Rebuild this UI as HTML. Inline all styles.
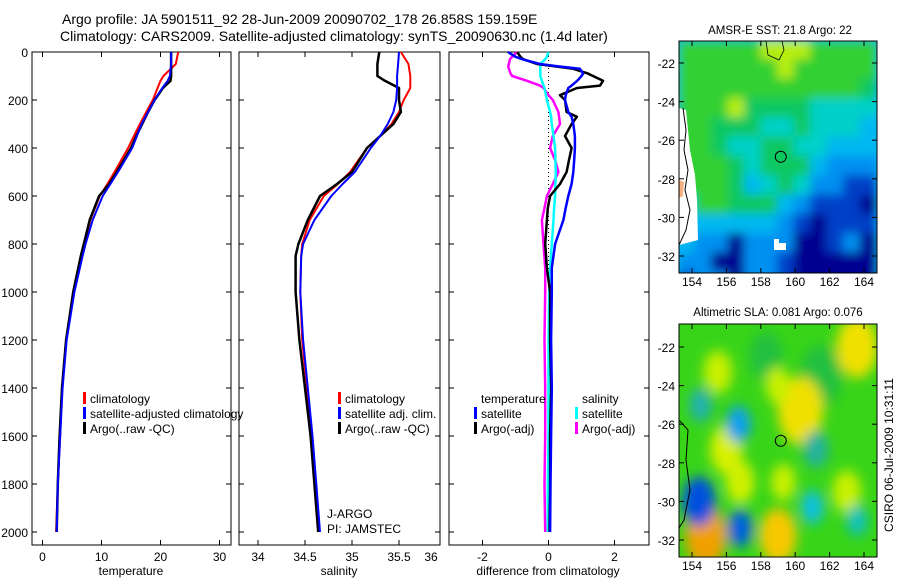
<!DOCTYPE html>
<html><head><meta charset="utf-8">
<style>
body{margin:0;background:#fff;}
svg{display:block;font-family:"Liberation Sans",sans-serif;}
</style></head>
<body>
<svg id="fig" width="900" height="580" viewBox="0 0 900 580">
<defs>
<filter id="blur1" x="-20%" y="-20%" width="140%" height="140%"><feGaussianBlur stdDeviation="5"/></filter>
<filter id="blur2" x="-50%" y="-50%" width="200%" height="200%"><feGaussianBlur stdDeviation="6"/></filter>
<clipPath id="clipMap1"><rect x="679" y="41" width="198" height="232"/></clipPath>
<clipPath id="clipMap2"><rect x="679" y="324" width="198" height="233"/></clipPath>
</defs>
<text x="62" y="24" font-size="14">Argo profile: JA 5901511_92 28-Jun-2009 20090702_178 26.858S 159.159E</text>
<text x="60" y="41" font-size="14">Climatology: CARS2009. Satellite-adjusted climatology: synTS_20090630.nc (1.4d later)</text>
<g id="plots"></g>
<text x="780" y="34" font-size="11.5" text-anchor="middle">AMSR-E SST: 21.8 Argo: 22</text>
<text x="778" y="316" font-size="11.5" text-anchor="middle">Altimetric SLA: 0.081 Argo: 0.076</text>
<text transform="translate(893,455) rotate(-90)" font-size="12" text-anchor="middle">CSIRO 06-Jul-2009 10:31:11</text>
</svg>
<script>
const NS="http://www.w3.org/2000/svg";
// ---- data ----
const depths=[0,50,100,120,150,200,250,300,350,400,500,550,600,700,800,850,1000,1200,1400,1600,1800,2000];
const tempClim=[23,22.6,20.5,20.0,19.5,18.7,17.6,16.5,15.5,14.5,12.2,11.0,9.7,8.1,7.1,6.6,5.3,4.0,3.3,3.0,2.6,2.3];
const tempSat=[21.8,21.8,21.6,21.2,20.3,19.0,17.9,16.8,16.0,15.2,12.8,11.5,10.2,8.5,7.3,6.8,5.4,4.1,3.4,3.0,2.6,2.4];
const tempArgo=[21.8,21.8,21.8,21.7,20.4,19.0,17.9,16.9,15.9,15.0,12.6,11.3,9.6,8.0,7.0,6.5,5.2,4.0,3.3,2.9,2.6,2.4];
const salClim=[35.52,35.6,35.62,35.62,35.62,35.55,35.5,35.42,35.3,35.16,34.98,34.85,34.7,34.55,34.47,34.46,34.45,34.47,34.52,34.57,34.6,34.64];
const salSat=[35.5,35.49,35.48,35.48,35.48,35.47,35.44,35.38,35.3,35.2,35.03,34.9,34.78,34.6,34.48,34.46,34.45,34.48,34.53,34.58,34.62,34.66];
const salArgo=[35.29,35.27,35.27,35.35,35.5,35.5,35.52,35.44,35.3,35.16,35.0,34.84,34.66,34.53,34.43,34.4,34.4,34.44,34.5,34.56,34.6,34.64];
const diffDepths=[0,20,30,50,60,70,90,100,120,140,150,180,200,250,270,300,350,400,450,500,550,600,650,700,800,900,1000,1200,1400,1600,1800,2000];
const diffTempSat=[-1.23,-1.0,-0.8,-0.26,0.3,0.95,1.05,1.0,0.87,0.7,0.6,0.52,0.5,0.6,0.7,0.75,0.8,0.8,0.78,0.75,0.7,0.6,0.52,0.45,0.2,0.1,0.1,0.08,0.1,0.08,0.06,0.05];
const diffTempArgo=[-0.95,-0.85,-0.77,-0.35,0.2,0.75,1.2,1.35,1.65,1.56,0.86,0.35,0.5,0.55,0.86,0.7,0.5,0.7,0.62,0.55,0.35,0.05,-0.02,-0.05,-0.1,-0.05,0.05,0.05,0.08,0.05,0.05,0.03];
const diffSalSat=[0.0,-0.05,-0.1,-0.25,-0.25,-0.25,-0.25,-0.25,-0.2,-0.15,-0.12,-0.08,-0.05,0.05,0.08,0.1,0.15,0.2,0.21,0.22,0.21,0.2,0.17,0.15,0.1,0.05,0.02,0.0,0.0,0.0,-0.02,-0.02];
const diffSalArgo=[-0.95,-1.1,-1.17,-1.2,-1.22,-1.2,-1.15,-1.1,-0.65,-0.26,-0.15,0.0,0.13,0.3,0.32,0.35,0.13,0.05,0.2,0.3,0.13,-0.05,-0.12,-0.2,-0.15,-0.1,-0.1,-0.12,-0.1,-0.1,-0.12,-0.1];
const depthTicks=[0,200,400,600,800,1000,1200,1400,1600,1800,2000];
const tempTicks=[0,10,20,30];
const salTicks=[34,34.5,35,35.5,36];
const diffTicks=[-2,0,2];
const latTicks=[-22,-24,-26,-28,-30,-32];
const lonTicks=[154,156,158,160,162,164];
// SST map cells (rows lat -21..-33, cols lon 153.5..165)
const sstRows=["GGGGGYYYGGGG","GGGGGGYGGGGG","GGGGGGGGGGGg","GGGYggggTTTT","GGgggTTgTTTC","GGgTTggTTCCC","GGGgTgggCBBB","GGGgCTgTBBDD","CGGgggCBDDDN","CCCCCCBDNDDD","CBBNBBBNNDBN","BBNNBBDNNNNN","DBBNBBDNNNNN"];
const sstColors={Y:"#b8ee10",G:"#30d030",g:"#10c860",T:"#00d0c8",C:"#00b8f0",B:"#0090f0",D:"#0040c8",N:"#000090"};
// SLA blobs: lon, lat, radius(deg), color
const slaLon=[158.3,161.5,163.6,160.3,159.0,155.5,156.0,156.8,154.8,159.0,159.3,163.0,154.4,156.7,156.8,161.0,161.2,154.5,163.6];
const slaLat=[-22.5,-23.5,-22.0,-25.3,-24.0,-23.3,-27.3,-29.0,-31.8,-31.8,-29.0,-29.5,-30.0,-26.0,-31.4,-30.3,-27.3,-25.0,-31.0];
const slaRad=[0.8,1.0,1.0,1.1,0.6,0.7,0.8,0.7,1.0,0.9,0.6,0.7,0.8,0.6,0.6,0.55,0.6,0.55,0.5];
const slaCol=["#20c040","#20c040","#f0e000","#f0e000","#c8f000","#c8f000","#d8f000","#d0f000","#f0a000","#f8c800","#c8f000","#c8f000","#0050e0","#10a0f0","#0060e0","#10c0e0","#20b0a0","#20b0b0","#10c0c0"];

const root=document.getElementById('plots');
function mk(tag,attrs,parent){const e=document.createElementNS(NS,tag);for(const k in attrs)e.setAttribute(k,attrs[k]);(parent||root).appendChild(e);return e;}
const yD=d=>52+0.24*d;
const xT=t=>42.5+5.9*t;
const xS=s=>258+94*(s-34);
const xDf=v=>548.5+33*v;
const panels=[{x0:32,x1:231},{x0:239,x1:440},{x0:449,x1:649}];
panels.forEach((p,i)=>{
  const f=mk('rect',{x:p.x0,y:52,width:p.x1-p.x0,height:493,fill:'none',stroke:'#000','stroke-width':1});
  
  
  depthTicks.forEach(d=>{
    mk('line',{x1:p.x0,x2:p.x0+5,y1:yD(d),y2:yD(d),stroke:'#000'});
    mk('line',{x1:p.x1,x2:p.x1-5,y1:yD(d),y2:yD(d),stroke:'#000'});
  });
});
depthTicks.forEach(d=>{
  const t=mk('text',{x:28,y:yD(d)+5,'font-size':12,'text-anchor':'end'});t.textContent=d;
  
  
});
function xticks(ticks,fx,p){
  ticks.forEach((v)=>{const x=fx(v);
    if(x<p.x1){
    mk('line',{x1:x,x2:x,y1:52,y2:57,stroke:'#000'});
    mk('line',{x1:x,x2:x,y1:545,y2:540,stroke:'#000'});}
    const t=mk('text',{x:Math.min(x,p.x1-9),y:561,'font-size':12,'text-anchor':'middle'});t.textContent=v;
    
    
  });
}
xticks(tempTicks,xT,panels[0]);xticks(salTicks,xS,panels[1]);xticks(diffTicks,xDf,panels[2]);
[['temperature',131,'temperature-axis-title'],['salinity',339,'salinity-axis-title'],['difference from climatology',548,'difference-axis-title']].forEach(a=>{
  const t=mk('text',{x:a[1],y:575,'font-size':12,'text-anchor':'middle'});t.textContent=a[0];
  
  
});
const z=mk('line',{x1:xDf(0),x2:xDf(0),y1:yD(0),y2:yD(2000),stroke:'#000','stroke-dasharray':'1,3'});


function line(xs,ds,fx,color,w,name){
  const pts=xs.map((v,i)=>fx(v).toFixed(1)+','+yD(ds[i]).toFixed(1)).join(' ');
  const l=mk('polyline',{points:pts,fill:'none',stroke:color,'stroke-width':w,'stroke-linejoin':'round'});
  
  
}
line(tempClim,depths,xT,'#f00',2,'temperature-climatology-line');
line(tempArgo,depths,xT,'#000',2.5,'temperature-argo-line');
line(tempSat,depths,xT,'#00f',2,'temperature-satellite-line');
line(salClim,depths,xS,'#f00',2,'salinity-climatology-line');
line(salArgo,depths,xS,'#000',2.5,'salinity-argo-line');
line(salSat,depths,xS,'#00f',2,'salinity-satellite-line');
line(diffSalArgo,diffDepths,xDf,'#f0f',2.5,'diff-salinity-argo-line');
line(diffSalSat,diffDepths,xDf,'#0ff',2.5,'diff-salinity-satellite-line');
line(diffTempArgo,diffDepths,xDf,'#000',2.5,'diff-temperature-argo-line');
line(diffTempSat,diffDepths,xDf,'#00f',2.5,'diff-temperature-satellite-line');
function leg(x,y,color,label,name){
  if(color){const m=mk('rect',{x:x-7,y:y-11,width:3,height:12,fill:color});
    
    }
  const t=mk('text',{x:x,y:y,'font-size':12});t.textContent=label;
  
  
}
leg(90,403,'#f00','climatology','legend-temp-climatology');
leg(90,418,'#00f','satellite-adjusted climatology','legend-temp-satellite');
leg(90,433,'#000','Argo(..raw -QC)','legend-temp-argo');
leg(345,403,'#f00','climatology','legend-sal-climatology');
leg(345,418,'#00f','satellite adj. clim.','legend-sal-satellite');
leg(345,433,'#000','Argo(..raw -QC)','legend-sal-argo');
leg(481,403,null,'temperature','legend-diff-temperature-header');
leg(481,418,'#00f','satellite','legend-diff-temp-satellite');
leg(481,433,'#000','Argo(-adj)','legend-diff-temp-argo');
leg(582,403,null,'salinity','legend-diff-salinity-header');
leg(582,418,'#0ff','satellite','legend-diff-sal-satellite');
leg(582,433,'#f0f','Argo(-adj)','legend-diff-sal-argo');
leg(327,518,null,'J-ARGO','jargo-label');
leg(327,533,null,'PI: JAMSTEC','pi-label');
function mapAxes(y0,y1,latA,latB,name){
  const lonX=l=>692+17.2*(l-154);
  const latY=l=>latA+(-22-l)*latB;
  const r=mk('rect',{x:679,y:y0,width:198,height:y1-y0,fill:'none',stroke:'#000'});
  
  
  latTicks.forEach(l=>{const y=latY(l);
    mk('line',{x1:679,x2:684,y1:y,y2:y,stroke:'#000'});mk('line',{x1:877,x2:872,y1:y,y2:y,stroke:'#000'});
    const t=mk('text',{x:675,y:y+5,'font-size':12,'text-anchor':'end'});t.textContent=l;
    
    });
  lonTicks.forEach(l=>{const x=lonX(l);
    mk('line',{x1:x,x2:x,y1:y0,y2:y0+5,stroke:'#000'});mk('line',{x1:x,x2:x,y1:y1,y2:y1-5,stroke:'#000'});
    const t=mk('text',{x:x,y:y1+13,'font-size':12,'text-anchor':'middle'});t.textContent=l;
    
    });
  return {lonX,latY};
}
// SST map
const g1=mk('g',{'clip-path':'url(#clipMap1)'});


const gb=mk('g',{filter:'url(#blur1)'},g1);
mk('rect',{x:670,y:30,width:220,height:260,fill:'#00b8f0'},gb);
sstRows.forEach((row,r)=>{[...row].forEach((c,k)=>{
  mk('rect',{x:679+k*16.5-1,y:41+r*19.3-1,width:18.5,height:21.3,fill:sstColors[c]},gb);
});});
mk('path',{d:'M679 108 L686 110 L690 150 L695 175 L697 200 L698 240 L679 245 Z',fill:'#fff'},g1);
mk('path',{d:'M679 180 L684 182 L683 196 L679 198 Z',fill:'#f8b080'},g1);
mk('path',{d:'M683 108 L686 130 L684 150 L688 170 L685 190 L690 210 L686 230 L679 245',fill:'none',stroke:'#000'},g1);
mk('path',{d:'M774 239 L779 239 L779 243 L786 243 L786 250 L774 250 Z',fill:'#fff'},g1);
mk('path',{d:'M766 41 L768 55 L779 60 L784 50 L782 41',fill:'none',stroke:'#000','stroke-width':0.8},g1);
const m1=mapAxes(41,273,63,19.3,'sst-map');
const c1=mk('circle',{cx:m1.lonX(159.16),cy:m1.latY(-26.86),r:5.5,fill:'none',stroke:'#000'});


// SLA map
const g2=mk('g',{'clip-path':'url(#clipMap2)'});


mk('rect',{x:679,y:324,width:198,height:233,fill:'#38d418'},g2);
const slaLonX=l=>692+17.2*(l-154), slaLatY=l=>347+(-22-l)*19.3;
const gb2=mk('g',{filter:'url(#blur2)'},g2);
slaLon.forEach((lo,i)=>{
  const e=mk('ellipse',{cx:slaLonX(lo),cy:slaLatY(slaLat[i]),rx:slaRad[i]*17.2*1.2,ry:slaRad[i]*19.3*1.6,fill:slaCol[i]},gb2);
  
  
});
mk('path',{d:'M679 420 L688 430 L686 460 L690 490 L684 520 L679 528',fill:'none',stroke:'#000'},g2);
const m2=mapAxes(324,557,347,19.3,'sla-map');
const c2=mk('circle',{cx:m2.lonX(159.16),cy:m2.latY(-26.86),r:5.5,fill:'none',stroke:'#000'});


</script>
</body></html>
